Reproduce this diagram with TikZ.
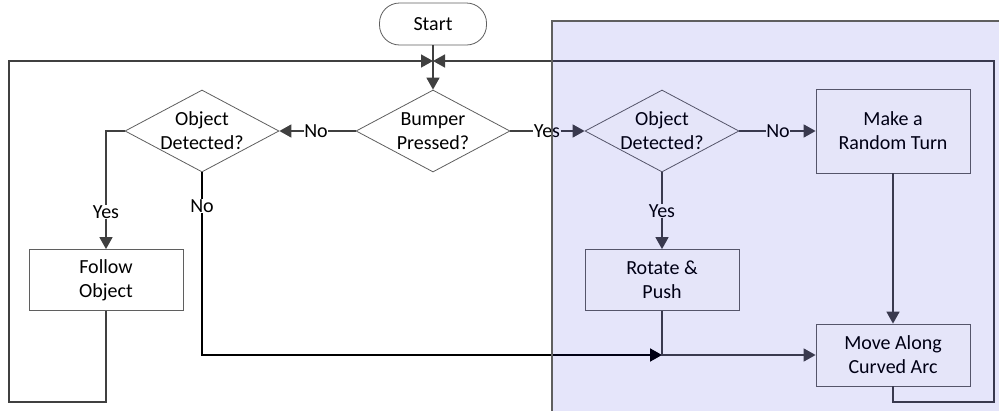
\documentclass[tikz,border=0pt]{standalone}
\usepackage{fontspec}
\setmainfont{Carlito}
\usetikzlibrary{arrows.meta, shapes.geometric, positioning}
\definecolor{linegray}{RGB}{64,64,64}
\definecolor{bordergray}{RGB}{95,95,95}
\definecolor{shadeblue}{RGB}{0,0,204}
\tikzset{
    flowbox/.style={draw=bordergray, line width=0.8pt, fill=white, align=center,
        minimum width=154pt, minimum height=61pt, inner sep=0pt},
    decision/.style={diamond, draw=bordergray, line width=0.8pt, fill=white, align=center,
        shape aspect=1.9, inner sep=-8pt, minimum width=154pt, minimum height=82pt},
    terminal/.style={draw=bordergray, line width=0.8pt, fill=white, rounded corners=20pt,
        minimum width=107pt, minimum height=42pt, inner sep=0pt},
    answer/.style={inner sep=0.5pt},
    conn/.style={draw=linegray, line width=1.6pt},
    connarrow/.style={conn, -{Triangle[length=12pt,width=13pt]}},
    noarrow/.style={draw=black, line width=1.9pt, -{Triangle[length=12pt,width=13pt]}}
}
\begin{document}
\begin{tikzpicture}[x=1pt, y=-1pt, font=\fontsize{20}{24}\selectfont]
    \useasboundingbox (0,0) rectangle (999,410);
    % shapes
    \node[terminal] (start) at (433,24) {Start};
    \node[decision] (bump) at (433,131) {Bumper\\Pressed?};
    \node[decision] (odleft) at (202,131) {Object\\Detected?};
    \node[decision] (odright) at (662,131) {Object\\Detected?};
    \node[flowbox, minimum height=84pt] (turn) at (893,131) {Make a\\Random Turn};
    \node[flowbox] (follow) at (106,280) {Follow\\Object};
    \node[flowbox] (rotate) at (662,280) {Rotate \&\\Push};
    \node[flowbox, minimum height=62pt] (move) at (893,355) {Move Along\\Curved Arc};
    % answers on the connectors
    \node[answer] (noleft) at (316,131) {No};
    \node[answer] (yesmid) at (547,131) {Yes};
    \node[answer] (noright) at (778,131) {No};
    \node[answer] (yesright) at (662,211) {Yes};
    \node[answer] (yesleft) at (106,212) {Yes};
    \node[answer] (nodown) at (202,206) {No};
    \coordinate (hub) at (433,61);
    \coordinate (lb) at (9,402);
    \coordinate (lt) at (9,61);
    \coordinate (rb) at (994,402);
    \coordinate (rt) at (994,61);
    \coordinate (join) at (rotate.south |- move.west);
    % connectors
    \draw[connarrow] (start.south) -- (bump.north);
    \draw[conn] (bump.west) -- (noleft.east);
    \draw[connarrow] (noleft.west) -- (odleft.east);
    \draw[conn] (bump.east) -- (yesmid.west);
    \draw[connarrow] (yesmid.east) -- (odright.west);
    \draw[conn] (odright.east) -- (noright.west);
    \draw[connarrow] (noright.east) -- (turn.west);
    \draw[conn] (odright.south) -- (yesright.north);
    \draw[connarrow] (yesright.south) -- (rotate.north);
    \draw[conn] (odleft.west) -| (yesleft.north);
    \draw[connarrow] (yesleft.south) -- (follow.north);
    \draw[draw=black, line width=1.9pt] (odleft.south) -- (nodown.north);
    \draw[noarrow] (nodown.south) |- (join);
    \draw[connarrow] (rotate.south) |- (move.west);
    \draw[connarrow] (turn.south) -- (move.north);
    \draw[connarrow] (follow.south) |- (lb) -- (lt) -- (hub);
    \draw[connarrow] (move.south) |- (rb) -- (rt) -- (hub);
    % shaded region on top
    \fill[shadeblue, fill opacity=0.1] (552,21) rectangle (1010,420);
    \draw[bordergray, line width=1.2pt] (552,420) -- (552,21) -- (1010,21);
\end{tikzpicture}
\end{document}
